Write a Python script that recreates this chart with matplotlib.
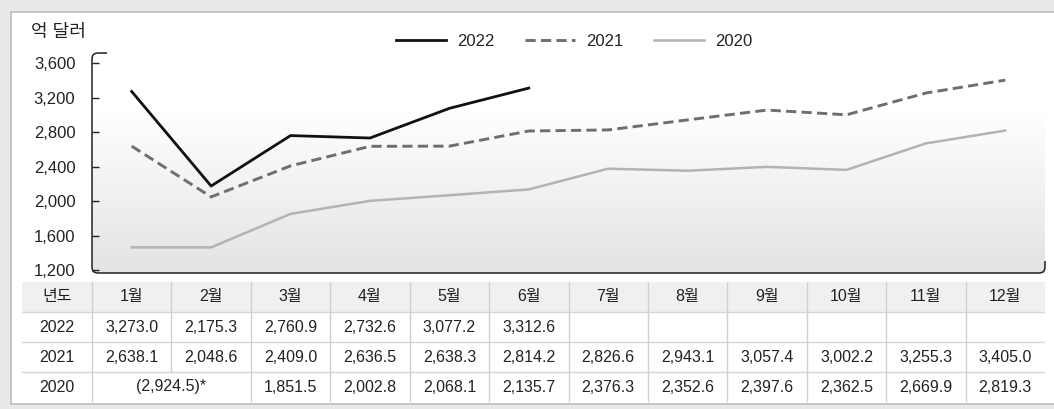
"""Monthly values 2020-2022: line chart with a data table underneath."""

import matplotlib

matplotlib.use("Agg")

import matplotlib.pyplot as plt
import numpy as np
from matplotlib.lines import Line2D
from matplotlib.patches import PathPatch, Rectangle
from matplotlib.path import Path

plt.rcParams["font.family"] = ["Liberation Sans", "Noto Sans CJK KR"]

months = ["1월", "2월", "3월", "4월", "5월", "6월", "7월", "8월", "9월", "10월", "11월", "12월"]
years = ["2022", "2021", "2020"]
v2022 = [3273.0, 2175.3, 2760.9, 2732.6, 3077.2, 3312.6]
v2021 = [2638.1, 2048.6, 2409.0, 2636.5, 2638.3, 2814.2,
         2826.6, 2943.1, 3057.4, 3002.2, 3255.3, 3405.0]
# Jan+Feb 2020 is reported as one total (2,924.5); the chart plots half of it per month
v2020 = [1462.3, 1462.3, 1851.5, 2002.8, 2068.1, 2135.7,
         2376.3, 2352.6, 2397.6, 2362.5, 2669.9, 2819.3]
v2020_janfeb = "(2,924.5)*"
yticks = [1200, 1600, 2000, 2400, 2800, 3200, 3600]
unit_label = "억 달러"
header_label = "년도"

W, H = 1054, 409
TXT = "#222222"


def fx(px):
    return px / W


def fy(py):
    return 1 - py / H


def fmt(v):
    return f"{v:,.1f}"


fig = plt.figure(figsize=(W / 100, H / 100), dpi=100)
fig.patch.set_facecolor("#e9e9e9")
fig.patches.append(Rectangle((fx(11), fy(404)), fx(W + 5 - 11), (404 - 12) / H,
                             transform=fig.transFigure, facecolor="white",
                             edgecolor="#bdbdbd", linewidth=1.2, zorder=-10))

# ---- chart ----
left, right, top, bottom = 92, 1045, 53, 273
ax = fig.add_axes([fx(left), fy(bottom), fx(right - left), (bottom - top) / H])
ax.set_facecolor("none")
for s in ax.spines.values():
    s.set_visible(False)

grad = np.linspace(0, 1, 256).reshape(-1, 1)
top_c, bot_c = np.array([1.0, 1.0, 1.0]), np.array([0.89, 0.89, 0.89])
img = top_c * (1 - grad[..., None]) + bot_c * grad[..., None]
ax.imshow(img, extent=(0, 1, 0, 0.74), transform=ax.transAxes, aspect="auto", zorder=0)

x = np.arange(len(months))
ax.plot(x[: len(v2020)], v2020, color="#b3b3b3", lw=1.8, solid_joinstyle="round", zorder=2)
ax.plot(x[: len(v2021)], v2021, color="#6e6e6e", lw=2.1, dashes=(3.5, 1.8), zorder=3)
ax.plot(x[: len(v2022)], v2022, color="#111111", lw=2.0, solid_joinstyle="round", zorder=4)

ax.set_xlim(-0.5, len(months) - 0.5)
ax.set_ylim(1165, 3720)
ax.set_xticks([])
ax.set_yticks(yticks)
ax.set_yticklabels([f"{t:,}" for t in yticks], fontsize=12, color=TXT)
ax.tick_params(axis="y", direction="in", length=5, width=1, color="#222222", pad=12)

# bracket-shaped frame with rounded corners
aw, ah = right - left, bottom - top
rx, ry = 6 / aw, 6 / ah
verts = [(15 / aw, 1), (rx, 1), (0, 1), (0, 1 - ry), (0, ry), (0, 0), (rx, 0),
         (1 - rx, 0), (1, 0), (1, ry), (1, 12 / ah)]
codes = [Path.MOVETO, Path.LINETO, Path.CURVE3, Path.CURVE3, Path.LINETO, Path.CURVE3,
         Path.CURVE3, Path.LINETO, Path.CURVE3, Path.CURVE3, Path.LINETO]
ax.add_patch(PathPatch(Path(verts, codes), transform=ax.transAxes, fill=False,
                       edgecolor="#222222", lw=1.1, clip_on=False, zorder=5))

fig.text(fx(31), fy(32), unit_label, fontsize=13, color=TXT, va="center", ha="left")

handles = [
    Line2D([], [], color="#111111", lw=2.0),
    Line2D([], [], color="#6e6e6e", lw=2.1, dashes=(3.5, 1.8)),
    Line2D([], [], color="#b3b3b3", lw=1.8),
]
fig.legend(handles, years, loc="center", bbox_to_anchor=(fx(574), fy(41)), ncol=3,
           frameon=False, fontsize=12, handlelength=3.0, handletextpad=0.7,
           columnspacing=1.8, labelcolor=TXT)

# ---- table ----
t_left, t_right, t_top, t_bot = 22, 1045, 282, 402
tax = fig.add_axes([fx(t_left), fy(t_bot), fx(t_right - t_left), (t_bot - t_top) / H])
tax.set_xlim(t_left, t_right)
tax.set_ylim(t_bot, t_top)
tax.axis("off")

col_w = (t_right - left) / len(months)
edges = [t_left] + [left + i * col_w for i in range(len(months) + 1)]
row_h = (t_bot - t_top) / 4
rows_y = [t_top + i * row_h for i in range(5)]

tax.add_patch(Rectangle((t_left, t_top), t_right - t_left, row_h, facecolor="#f0f0f0",
                        edgecolor="none", zorder=0))
for yy in rows_y[1:4]:
    tax.plot([t_left, t_right], [yy, yy], color="#d6d6d6", lw=1, zorder=1)
for i, ex in enumerate(edges[1:-1], start=1):
    y_end = t_bot if i != 2 else rows_y[3]
    tax.plot([ex, ex], [t_top, y_end], color="#d0d0d0", lw=1, zorder=1)


def cell(col, row, s):
    cx = (edges[col] + edges[col + 1]) / 2
    cy = (rows_y[row] + rows_y[row + 1]) / 2
    tax.text(cx, cy, s, ha="center", va="center", fontsize=11.5, color=TXT)


cell(0, 0, header_label)
for i, m in enumerate(months):
    cell(i + 1, 0, m)
for r, (yr, vals) in enumerate(zip(years, [v2022, v2021, v2020]), start=1):
    cell(0, r, yr)
    for i, v in enumerate(vals):
        if yr == "2020" and i < 2:
            continue
        cell(i + 1, r, fmt(v))
tax.text(edges[2], (rows_y[3] + rows_y[4]) / 2, v2020_janfeb, ha="center", va="center",
         fontsize=11.5, color=TXT)

fig.savefig("out.png", dpi=100, facecolor=fig.get_facecolor())
